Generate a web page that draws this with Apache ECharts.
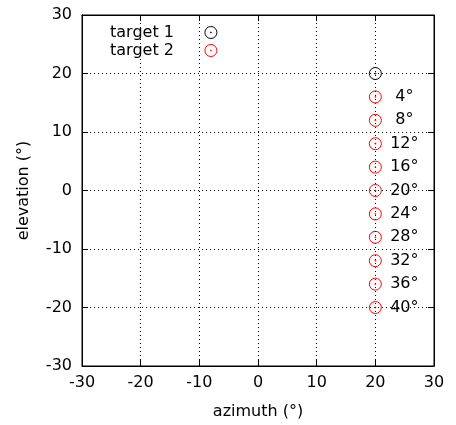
<!DOCTYPE html>
<html><head><meta charset="utf-8">
<script src="https://cdn.jsdelivr.net/npm/echarts@6/dist/echarts.min.js"></script>
<style>html,body{margin:0;padding:0;background:#fff}#c{width:456px;height:425px}</style>
</head><body><div id="c"></div>
<script>
const axisTicks = [-30, -20, -10, 0, 10, 20, 30];
const target1 = [[20, 20]];
const target2Az = [20, 20, 20, 20, 20, 20, 20, 20, 20, 20];
const target2El = [16, 12, 8, 4, 0, -4, -8, -12, -16, -20];
const target2Labels = ['4°', '8°', '12°', '16°', '20°', '24°', '28°', '32°', '36°', '40°'];

const FONT = 'DejaVu Sans';
const sym = 'path://M0,-6A6,6 0 1,1 0,6A6,6 0 1,1 0,-6ZM0,-0.5A0.5,0.5 0 1,1 0,0.5A0.5,0.5 0 1,1 0,-0.5Z';

const chart = echarts.init(document.getElementById('c'), null, {renderer: 'canvas'});
const t2data = target2El.map((e, i) => ({value: [target2Az[i], e], label: {formatter: target2Labels[i]}}));

function axisBase(pos, name, show) {
  return {
    type: 'value', min: axisTicks[0], max: axisTicks[axisTicks.length - 1], interval: 10,
    position: pos,
    name: show ? name : '', nameLocation: 'middle',
    nameTextStyle: {fontFamily: FONT, fontSize: 16, color: '#000'},
    axisLine: {show: true, onZero: false, lineStyle: {color: '#000', width: 1}},
    axisTick: {show: true, inside: true, length: 6, lineStyle: {color: '#000'}},
    axisLabel: {show: show, fontFamily: FONT, fontSize: 16, color: '#000'},
    splitLine: {show: show, lineStyle: {color: '#000', type: [1, 3], width: 1}}
  };
}
const xb = axisBase('bottom', 'azimuth (°)', true); xb.nameGap = 38; xb.axisLabel.margin = 9;
const xt = axisBase('top', '', false);
const yl = axisBase('left', 'elevation (°)', true); yl.nameGap = 50; yl.axisLabel.margin = 10;
const yr = axisBase('right', '', false);

chart.setOption({
  animation: false,
  grid: {left: 82, right: 22, top: 15, bottom: 58, show: true, borderColor: '#000', borderWidth: 1},
  xAxis: [xb, xt],
  yAxis: [yl, yr],
  legend: {
    orient: 'vertical', left: 105, top: 19, align: 'right', itemGap: 1,
    itemWidth: 12, itemHeight: 12,
    itemStyle: {borderWidth: 1},
    textStyle: {fontFamily: FONT, fontSize: 16, color: '#000', padding: [0, 26, 0, 0]},
    data: ['target 1', 'target 2']
  },
  series: [
    {name: 'target 1', type: 'scatter', symbol: sym, symbolSize: 12,
     itemStyle: {color: 'none', borderColor: '#000', borderWidth: 1, opacity: 1},
     data: target1, z: 5},
    {name: 'target 2', type: 'scatter', symbol: sym, symbolSize: 12,
     itemStyle: {color: 'none', borderColor: '#ff0000', borderWidth: 1, opacity: 1},
     label: {show: true, position: 'inside', offset: [29, 0], align: 'center', verticalAlign: 'middle',
             fontFamily: FONT, fontSize: 16, color: '#000'},
     data: t2data, z: 5}
  ]
});
</script></body></html>
